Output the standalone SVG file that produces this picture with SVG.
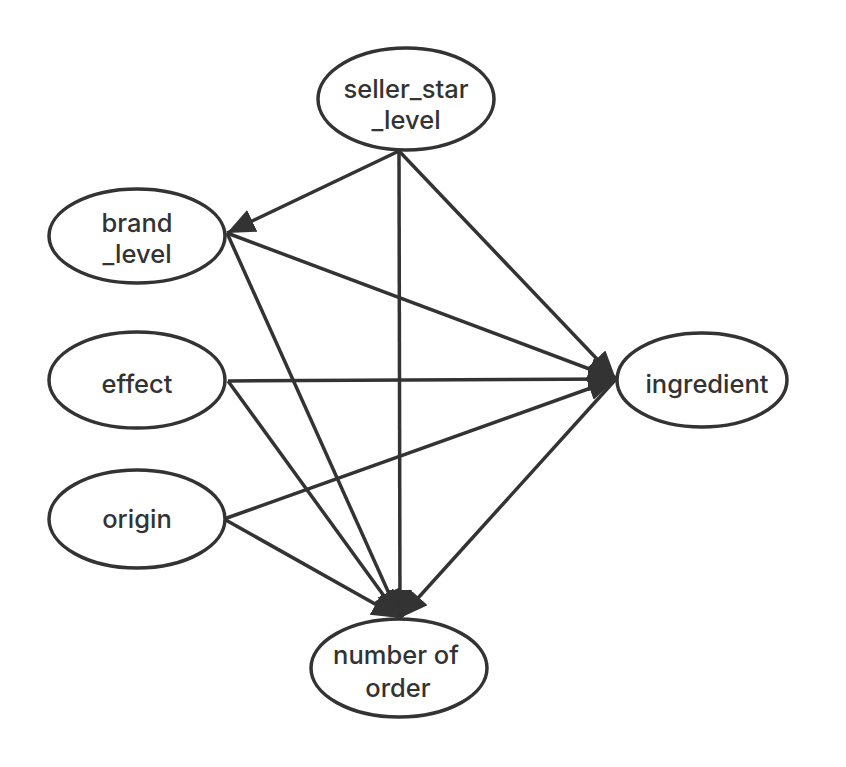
<svg xmlns="http://www.w3.org/2000/svg" width="846" height="767" viewBox="0 0 846 767">
<style>
.n ellipse{fill:#fff;stroke:#333;stroke-width:3.5}
.n text{font-family:Inter,"Liberation Sans",sans-serif;font-size:25.5px;font-weight:500;fill:#333;text-anchor:middle}
.e line{stroke:#333;stroke-width:3.5;marker-end:url(#ah)}
</style>
<defs>
<marker id="ah" markerUnits="userSpaceOnUse" markerWidth="32" markerHeight="28" refX="28" refY="12" orient="auto" viewBox="0 0 32 28">
<path d="M0,0 L28,12 L0,24 z" fill="#333"/>
</marker>
</defs>
<rect width="846" height="767" fill="#fff"/>
<g id="connectors" class="e">
<line x1="399" y1="151" x2="227" y2="233"/>
<line x1="399" y1="151" x2="400" y2="618"/>
<line x1="399" y1="151" x2="616" y2="379"/>
<line x1="227" y1="233" x2="616" y2="379"/>
<line x1="227" y1="233" x2="400" y2="618"/>
<line x1="228" y1="381" x2="616" y2="379"/>
<line x1="228" y1="381" x2="400" y2="618"/>
<line x1="224" y1="519" x2="616" y2="379"/>
<line x1="224" y1="519" x2="400" y2="618"/>
<line x1="616" y1="379" x2="400" y2="618"/>
</g>
<g id="seller_star_level" class="n">
<ellipse cx="406" cy="99" rx="88" ry="51"/>
<text x="406" y="98">seller_star</text>
<text x="406" y="129">_level</text>
</g>
<g id="brand_level" class="n">
<ellipse cx="137" cy="236" rx="88" ry="47"/>
<text x="137" y="232">brand</text>
<text x="137" y="263">_level</text>
</g>
<g id="effect" class="n">
<ellipse cx="137" cy="380" rx="88" ry="48"/>
<text x="137" y="393">effect</text>
</g>
<g id="origin" class="n">
<ellipse cx="137" cy="519" rx="88" ry="49"/>
<text x="137" y="528">origin</text>
</g>
<g id="ingredient" class="n">
<ellipse cx="702" cy="380" rx="85" ry="47"/>
<text x="707" y="393">ingredient</text>
</g>
<g id="number_of_order" class="n">
<ellipse cx="399" cy="668" rx="88" ry="49"/>
<text x="396" y="664">number of</text>
<text x="398" y="697">order</text>
</g>
</svg>
